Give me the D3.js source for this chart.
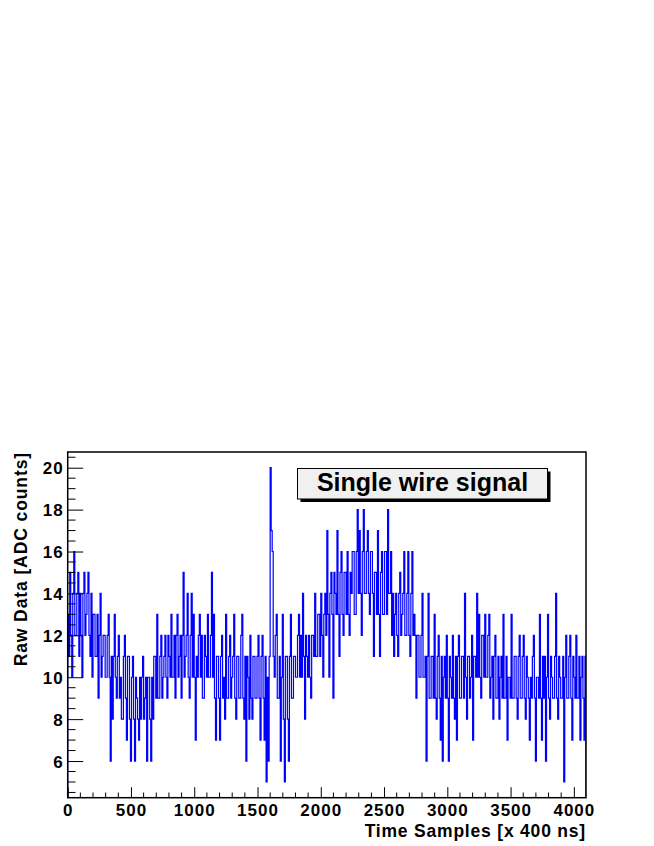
<!DOCTYPE html>
<html>
<head>
<meta charset="utf-8">
<script src="https://cdn.jsdelivr.net/npm/d3@7"></script>
<style>
  html, body { margin: 0; padding: 0; background: #ffffff; }
  svg { display: block; }
  text { font-family: "Liberation Sans", Arial, Helvetica, sans-serif; font-weight: bold; fill: #000; }
</style>
</head>
<body>
<script>
// ---- data (ADC counts, one value per 8 time samples) ----
const binWidth = 8;
const adcCounts = [
  13,11,15,12,10,14,16,12,12,14,15,11,14,12,10,14,
  15,12,13,14,15,12,11,14,10,13,13,11,11,13,9,12,
  14,10,11,12,12,10,10,12,13,10,6,11,8,11,13,10,
  9,11,12,9,10,8,8,11,12,9,7,11,11,8,6,10,
  11,8,6,10,9,8,7,10,8,10,11,8,9,10,6,10,
  10,8,6,10,8,11,11,9,13,9,9,11,12,9,10,11,
  12,10,9,12,11,10,13,10,10,12,9,12,13,10,11,12,
  9,12,15,10,11,12,14,10,9,12,14,10,13,10,7,11,
  10,12,13,10,12,9,9,12,11,10,13,10,10,12,15,10,
  13,9,7,11,11,9,7,11,12,9,10,8,13,9,9,11,
  12,9,10,11,13,9,8,11,11,9,9,12,13,9,8,11,
  6,11,10,8,12,9,8,11,11,9,9,11,12,9,7,11,
  12,9,7,11,5,10,6,11,20,17,16,11,10,12,13,9,
  9,11,6,10,13,8,5,11,11,8,6,11,13,9,9,11,
  11,10,10,12,13,10,12,10,14,11,8,12,11,10,12,10,
  9,12,12,11,14,11,11,13,13,11,14,12,10,13,14,12,
  17,13,10,14,15,13,9,15,14,13,17,13,11,15,16,13,
  12,15,15,13,16,13,12,15,14,16,16,13,13,16,18,14,
  17,14,12,16,18,14,14,16,17,14,13,16,16,14,11,15,
  15,13,17,13,11,15,16,13,13,16,16,13,18,14,14,16,
  12,14,11,13,14,12,11,14,15,12,13,14,16,12,12,14,
  16,12,11,14,16,12,13,12,9,12,12,10,10,12,14,10,
  10,11,6,11,14,9,9,11,11,9,13,9,8,11,12,9,
  7,11,6,10,11,9,12,9,6,11,10,9,12,9,8,11,
  7,11,12,9,9,11,11,9,14,10,8,11,11,9,10,12,
  7,11,11,10,14,10,13,10,9,12,12,10,13,10,10,12,
  13,9,10,11,8,11,12,9,9,11,8,10,11,9,13,9,
  9,11,7,10,10,9,13,9,9,11,11,9,8,11,12,9,
  9,11,12,9,8,11,10,9,7,10,9,11,12,9,6,10,
  10,9,13,9,7,11,9,11,6,10,13,9,8,11,10,9,
  9,11,14,9,8,11,10,9,9,11,5,10,12,9,9,11,
  12,9,7,11,10,9,12,9,9,11,7,10,11,9,7,11
];
const xDomain = [0, 4096];
const yDomain = [4.25, 20.75];
const xMajorTicks = [0, 500, 1000, 1500, 2000, 2500, 3000, 3500, 4000];
const yMajorTicks = [6, 8, 10, 12, 14, 16, 18, 20];
const xTitle = "Time Samples [x 400 ns]";
const yTitle = "Raw Data [ADC counts]";
const boxLabel = "Single wire signal";

// ---- layout ----
const W = 654, H = 846;
const L = 67.7, R = 586, T = 452, B = 797.7;

const svg = d3.select("body").append("svg").attr("width", W).attr("height", H);

const x = d3.scaleLinear().domain(xDomain).range([L, R]);
const y = d3.scaleLinear().domain(yDomain).range([B, T]);

svg.append("defs").append("clipPath").attr("id", "plotclip")
  .append("rect").attr("x", L).attr("y", T).attr("width", R - L).attr("height", B - T);

// histogram as a step line
const pts = [[xDomain[0], yDomain[0]]];
adcCounts.forEach((v, i) => pts.push([i * binWidth, v]));
pts.push([adcCounts.length * binWidth, adcCounts[adcCounts.length - 1]]);
pts.push([adcCounts.length * binWidth, yDomain[0]]);

const line = d3.line().x(d => x(d[0])).y(d => y(d[1])).curve(d3.curveStepAfter);
svg.append("path")
  .attr("clip-path", "url(#plotclip)")
  .attr("d", line(pts))
  .attr("fill", "none")
  .attr("stroke", "#0000ff")
  .attr("stroke-width", 1.2);

// ---- axes ----
const xMinor = d3.range(0, 4001, 100).filter(v => v % 500 !== 0);
const yMinor = d3.range(4.5, 20.51, 0.5).filter(v => v % 2 !== 0);

const xAxis = d3.axisBottom(x).tickValues(xMajorTicks).tickSize(-10.5).tickPadding(0).tickFormat(d3.format("d"));
const gx = svg.append("g").attr("transform", `translate(0,${B})`).call(xAxis);
gx.select(".domain").remove();
gx.selectAll(".tick line").attr("stroke", "#000").attr("stroke-width", 1);
gx.selectAll(".tick text").attr("font-size", 17).attr("dy", 0).attr("y", 18)
  .attr("letter-spacing", 1).attr("font-family", "Liberation Sans, Arial, sans-serif");

svg.append("g").selectAll("line").data(xMinor).join("line")
  .attr("x1", d => x(d)).attr("x2", d => x(d))
  .attr("y1", B).attr("y2", B - 5.2)
  .attr("stroke", "#000").attr("stroke-width", 1);

const yAxis = d3.axisLeft(y).tickValues(yMajorTicks).tickSize(-15.5).tickPadding(0).tickFormat(d3.format("d"));
const gy = svg.append("g").attr("transform", `translate(${L},0)`).call(yAxis);
gy.select(".domain").remove();
gy.selectAll(".tick line").attr("stroke", "#000").attr("stroke-width", 1);
gy.selectAll(".tick text").attr("font-size", 17).attr("x", -4).attr("dy", "0.36em")
  .attr("letter-spacing", 1).attr("font-family", "Liberation Sans, Arial, sans-serif");

svg.append("g").selectAll("line").data(yMinor).join("line")
  .attr("x1", L).attr("x2", L + 7.8)
  .attr("y1", d => y(d)).attr("y2", d => y(d))
  .attr("stroke", "#000").attr("stroke-width", 1);

// frame
svg.append("rect").attr("x", L).attr("y", T).attr("width", R - L).attr("height", B - T)
  .attr("fill", "none").attr("stroke", "#000").attr("stroke-width", 1.5);

// axis titles
svg.append("text").attr("x", R).attr("y", 837).attr("text-anchor", "end")
  .attr("font-size", 17.5).attr("letter-spacing", 0.8).text(xTitle);
svg.append("text").attr("transform", `translate(27,${T}) rotate(-90)`).attr("text-anchor", "end")
  .attr("font-size", 17.5).attr("letter-spacing", 0.9).text(yTitle);

// label box
const bx = 297.5, by = 468.5, bw = 250, bh = 30.5;
svg.append("rect").attr("x", bx + 3).attr("y", by + 3).attr("width", bw).attr("height", bh).attr("fill", "#000");
svg.append("rect").attr("x", bx).attr("y", by).attr("width", bw).attr("height", bh)
  .attr("fill", "#f0f0f0").attr("stroke", "#000").attr("stroke-width", 1);
svg.append("text").attr("x", bx + bw / 2).attr("y", by + 22).attr("text-anchor", "middle")
  .attr("font-size", 25).text(boxLabel);
</script>
</body>
</html>
